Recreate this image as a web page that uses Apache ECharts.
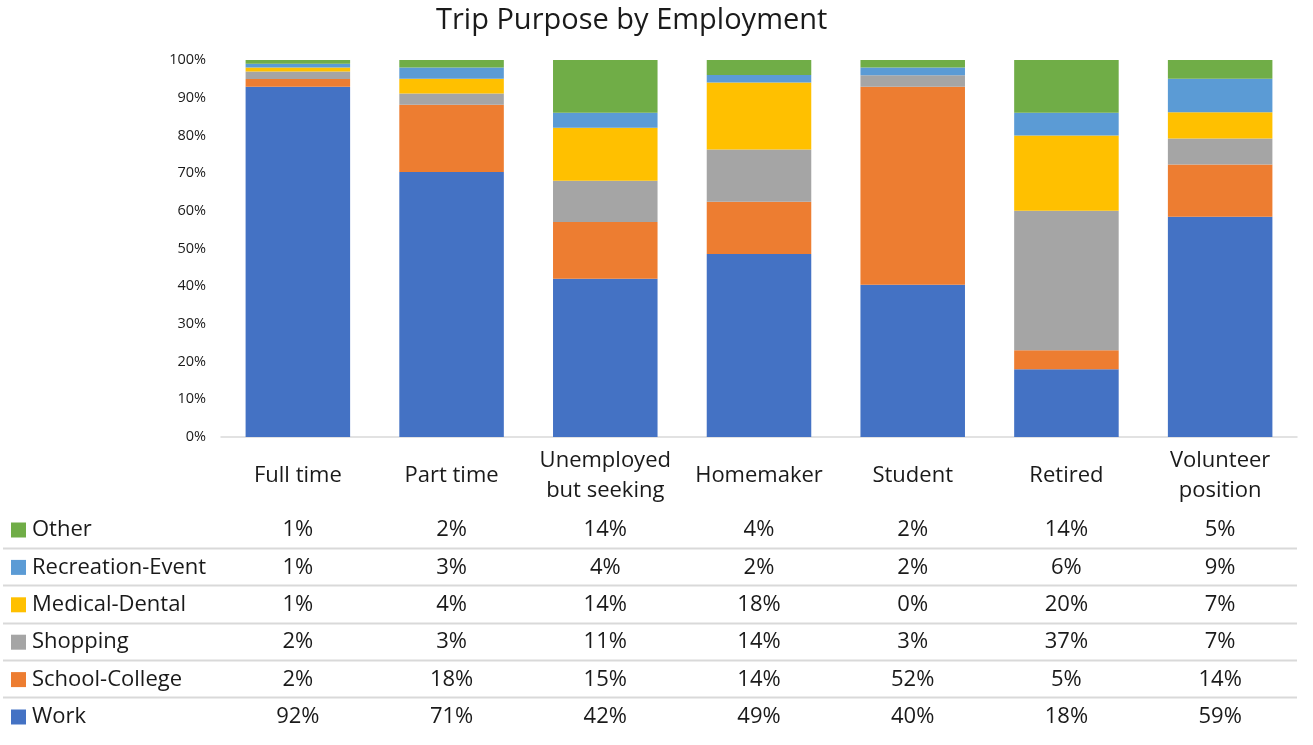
<!DOCTYPE html>
<html>
<head>
<meta charset="utf-8">
<script src="https://cdn.jsdelivr.net/npm/echarts@6/dist/echarts.min.js"></script>
<style>
  html, body { margin: 0; padding: 0; background: #fff; }
  #main { width: 1313px; height: 745px; }
</style>
</head>
<body>
<div id="main"></div>
<script>
// categories and values as shown in the data table (percent)
const categories = ["Full time", "Part time", "Unemployed\nbut seeking", "Homemaker", "Student", "Retired", "Volunteer\nposition"];
const work = [92, 71, 42, 49, 40, 18, 59];
const schoolCollege = [2, 18, 15, 14, 52, 5, 14];
const shopping = [2, 3, 11, 14, 3, 37, 7];
const medicalDental = [1, 4, 14, 18, 0, 20, 7];
const recreationEvent = [1, 3, 4, 2, 2, 6, 9];
const other = [1, 2, 14, 4, 2, 14, 5];
const yTicks = [0, 10, 20, 30, 40, 50, 60, 70, 80, 90, 100];

const font = "Open Sans";
const textColor = "#1a1a1a";

// bottom-up stack order
const seriesDefs = [
  { name: "Work", data: work, color: "#4472C4" },
  { name: "School-College", data: schoolCollege, color: "#ED7D31" },
  { name: "Shopping", data: shopping, color: "#A5A5A5" },
  { name: "Medical-Dental", data: medicalDental, color: "#FFC000" },
  { name: "Recreation-Event", data: recreationEvent, color: "#5B9BD5" },
  { name: "Other", data: other, color: "#70AD47" },
];
// table rows top-down
const tableRows = seriesDefs.slice().reverse();

// 100% stacked: normalize each column
const colSum = categories.map((c, i) => seriesDefs.reduce((s, d) => s + d.data[i], 0));

const plotBottom = 437;
const rowTop = 530;
const rowStep = 37.4;

const xAxes = [
  {
    type: "category",
    data: categories,
    axisLine: { lineStyle: { color: "#d9d9d9", width: 1.5 } },
    axisTick: { show: false },
    axisLabel: {
      interval: 0,
      margin: 39,
      verticalAlign: "middle",
      fontFamily: font,
      fontSize: 22,
      lineHeight: 30,
      color: textColor,
    },
  },
];
tableRows.forEach((row, r) => {
  xAxes.push({
    type: "category",
    data: categories,
    position: "bottom",
    axisLine: { show: false },
    axisTick: { show: false },
    axisLabel: {
      interval: 0,
      margin: rowTop - plotBottom + rowStep * r,
      verticalAlign: "middle",
      fontFamily: font,
      fontSize: 22,
      color: textColor,
      formatter: (val, idx) => row.data[idx] + "%",
    },
  });
});

const tableLines = [];
for (let i = 0; i < tableRows.length - 1; i++) {
  const y = Math.round(rowTop - 1 + rowStep * (i + 0.5)) + 0.5;
  tableLines.push({
    type: "line",
    shape: { x1: 3, y1: y, x2: 1297, y2: y },
    style: { stroke: "#d9d9d9", lineWidth: 2 },
    silent: true,
  });
}

const option = {
  animation: false,
  title: {
    text: "Trip Purpose by Employment",
    left: 436,
    top: 6,
    padding: 0,
    textStyle: { fontFamily: font, fontSize: 29, fontWeight: "normal", color: textColor },
  },
  legend: {
    orient: "vertical",
    left: 11,
    top: rowTop - 12,
    padding: 0,
    itemWidth: 15,
    itemHeight: 15,
    itemGap: rowStep - 24,
    icon: "rect",
    data: tableRows.map((d) => d.name),
    textStyle: { fontFamily: font, fontSize: 22, lineHeight: 24, color: textColor, padding: [0, 0, 0, 1] },
    selectedMode: false,
  },
  grid: { left: 221, right: 16, top: 60, bottom: 745 - plotBottom },
  xAxis: xAxes,
  yAxis: {
    type: "value",
    min: yTicks[0],
    max: yTicks[yTicks.length - 1],
    interval: yTicks[1] - yTicks[0],
    axisLine: { show: false },
    axisTick: { show: false },
    splitLine: { show: false },
    axisLabel: {
      margin: 15,
      fontFamily: font,
      fontSize: 14.5,
      color: textColor,
      formatter: "{value}%",
    },
  },
  graphic: tableLines,
  series: seriesDefs.map((d) => ({
    name: d.name,
    type: "bar",
    stack: "total",
    xAxisIndex: 0,
    barWidth: "68%",
    itemStyle: { color: d.color },
    data: d.data.map((v, i) => (v / colSum[i]) * 100),
  })),
};

const chart = echarts.init(document.getElementById("main"));
chart.setOption(option);
</script>
</body>
</html>
